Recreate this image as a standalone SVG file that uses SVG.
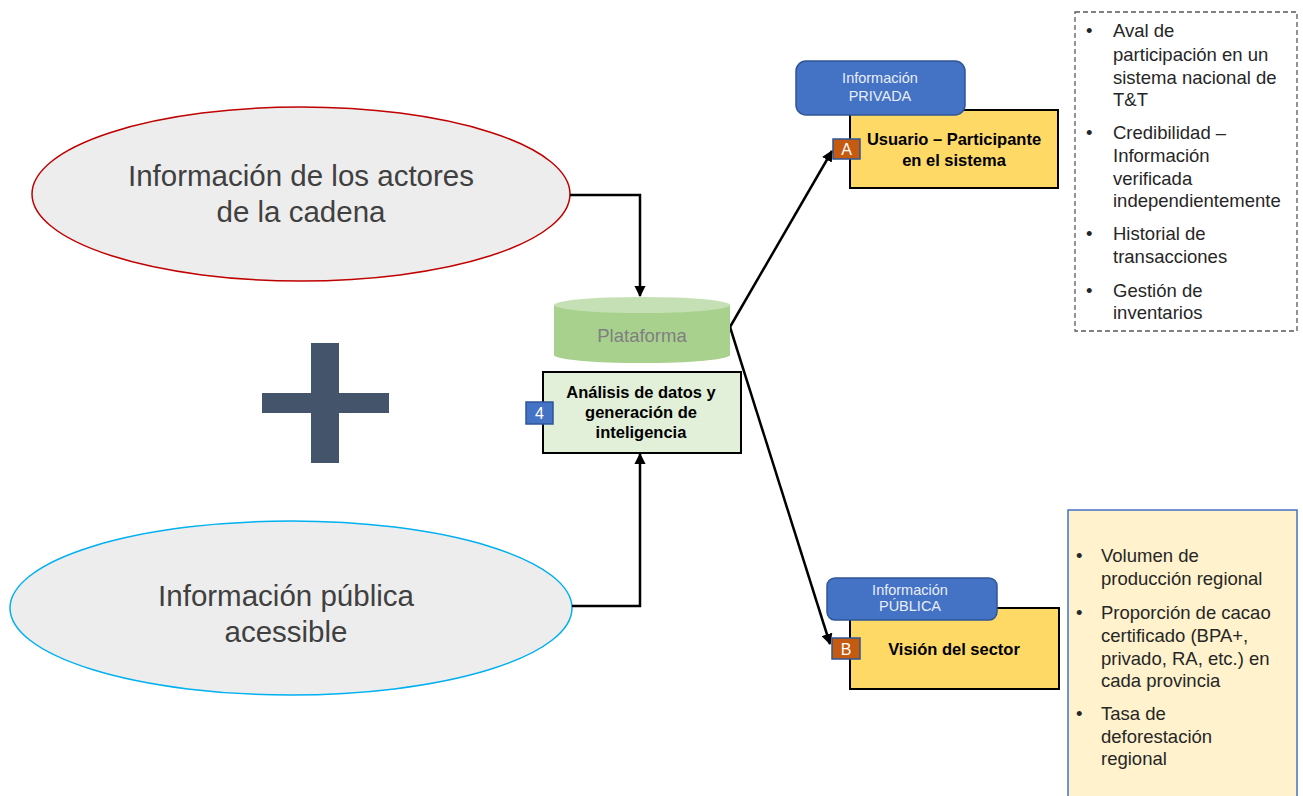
<svg xmlns="http://www.w3.org/2000/svg" width="1303" height="796" viewBox="0 0 1303 796">
<style>
.big{font-family:"Liberation Sans",Arial,sans-serif;font-size:29.5px;fill:#404040;text-anchor:middle}
.bold{font-family:"Liberation Sans",Arial,sans-serif;font-size:16.5px;font-weight:bold;fill:#000;text-anchor:middle}
.list{font-family:"Liberation Sans",Arial,sans-serif;font-size:18.5px;fill:#262626}
.tag{font-family:"Liberation Sans",Arial,sans-serif;font-size:14.5px;fill:#E8EEF8;text-anchor:middle}
.badge{font-family:"Liberation Sans",Arial,sans-serif;font-size:16px;fill:#fff;text-anchor:middle}
.conn{fill:none;stroke:#000;stroke-width:2.5}
.yel{fill:#FFD966;stroke:#000;stroke-width:2}
.blue{fill:#4472C4;stroke:#2F5597;stroke-width:1.5}
.org{fill:#C55A11;stroke:#2F5597;stroke-width:1.5}
</style>
<defs>
<marker id="arr" viewBox="0 0 10 10" refX="9" refY="5" markerWidth="4.5" markerHeight="4.5" markerUnits="strokeWidth" orient="auto">
<path d="M0,0 L10,5 L0,10 z" fill="#000"/>
</marker>
</defs>
<rect width="1303" height="796" fill="#fff"/>

<g id="actores">
<ellipse cx="301" cy="194" rx="269" ry="87" fill="#EDEDED" stroke="#C00000" stroke-width="1.5"/>
<text class="big" x="301" y="186">Información de los actores</text>
<text class="big" x="301" y="222">de la cadena</text>
</g>

<g id="publica">
<ellipse cx="291" cy="608" rx="281" ry="87" fill="#EDEDED" stroke="#00B0F0" stroke-width="1.5"/>
<text class="big" x="286" y="606">Información pública</text>
<text class="big" x="286" y="642">acessible</text>
</g>

<g id="plus" fill="#44546A">
<rect x="311" y="343" width="28" height="120"/>
<rect x="262" y="393" width="127" height="20"/>
</g>

<g id="connectors">
<path class="conn" d="M570,195 H640 V296" marker-end="url(#arr)"/>
<path class="conn" d="M572,606 H640 V454" marker-end="url(#arr)"/>
<path class="conn" d="M730,327 L832,151" marker-end="url(#arr)"/>
<path class="conn" d="M730,327 L830,644" marker-end="url(#arr)"/>
</g>

<g id="plataforma">
<path d="M554,305 V355 A88,8 0 0 0 730,355 V305 Z" fill="#A9D18E"/>
<ellipse cx="642" cy="305" rx="88" ry="8" fill="#C5E0B4"/>
<text x="642" y="342" font-family="Liberation Sans, Arial, sans-serif" font-size="18.5" fill="#7F7F7F" text-anchor="middle">Plataforma</text>
</g>

<g id="analisis">
<rect x="543" y="372" width="198" height="81" fill="#E2F0D9" stroke="#000" stroke-width="2"/>
<text class="bold" x="641" y="398">Análisis de datos y</text>
<text class="bold" x="641" y="418">generación de</text>
<text class="bold" x="641" y="438">inteligencia</text>
<rect class="blue" x="526" y="402" width="27" height="22"/>
<text class="badge" x="539.5" y="419">4</text>
</g>

<g id="usuario">
<rect class="yel" x="850" y="110" width="208" height="78"/>
<rect class="blue" x="796" y="61" width="169" height="54" rx="10"/>
<text class="tag" x="880" y="83">Información</text>
<text class="tag" x="880" y="101">PRIVADA</text>
<text class="bold" x="954" y="145">Usuario – Participante</text>
<text class="bold" x="954" y="166">en el sistema</text>
<rect class="org" x="833" y="139" width="27" height="20"/>
<text class="badge" x="846.5" y="155">A</text>
</g>

<g id="vision">
<rect class="yel" x="850" y="608" width="209" height="81"/>
<rect class="blue" x="827" y="578" width="170" height="42" rx="8"/>
<text class="tag" x="910" y="595">Información</text>
<text class="tag" x="910" y="611">PÚBLICA</text>
<text class="bold" x="954" y="655">Visión del sector</text>
<rect class="org" x="832" y="638" width="28" height="21"/>
<text class="badge" x="846" y="655">B</text>
</g>

<g id="lista-privada">
<rect x="1075" y="12" width="222" height="319" fill="#fff" stroke="#595959" stroke-width="1.3" stroke-dasharray="5,3"/>
<g class="list">
<text x="1086" y="37">•</text>
<text x="1113" y="37">Aval de</text>
<text x="1113" y="61">participación en un</text>
<text x="1113" y="84">sistema nacional de</text>
<text x="1113" y="106">T&amp;T</text>
<text x="1086" y="139">•</text>
<text x="1113" y="139">Credibilidad –</text>
<text x="1113" y="162">Información</text>
<text x="1113" y="185">verificada</text>
<text x="1113" y="207">independientemente</text>
<text x="1086" y="240">•</text>
<text x="1113" y="240">Historial de</text>
<text x="1113" y="263">transacciones</text>
<text x="1086" y="297">•</text>
<text x="1113" y="297">Gestión de</text>
<text x="1113" y="319">inventarios</text>
</g>
</g>

<g id="lista-publica">
<rect x="1068" y="510" width="229" height="300" fill="#FFF2CC" stroke="#4472C4" stroke-width="1.5"/>
<g class="list">
<text x="1076" y="562">•</text>
<text x="1101" y="562">Volumen de</text>
<text x="1101" y="585">producción regional</text>
<text x="1076" y="619">•</text>
<text x="1101" y="619">Proporción de cacao</text>
<text x="1101" y="642">certificado (BPA+,</text>
<text x="1101" y="665">privado, RA, etc.) en</text>
<text x="1101" y="687">cada provincia</text>
<text x="1076" y="720">•</text>
<text x="1101" y="720">Tasa de</text>
<text x="1101" y="743">deforestación</text>
<text x="1101" y="765">regional</text>
</g>
</g>
</svg>
